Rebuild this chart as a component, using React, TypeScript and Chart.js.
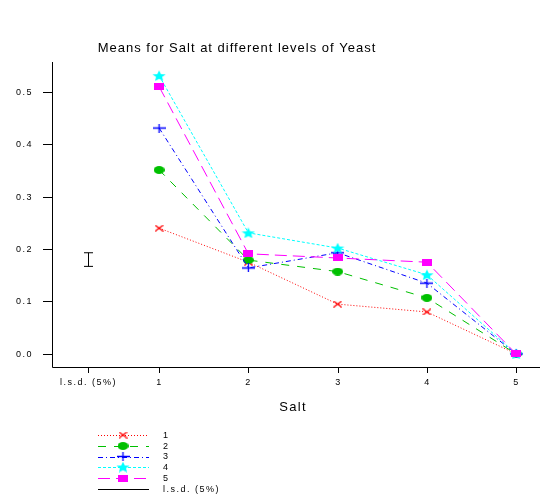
import React, { useEffect, useRef } from "react";
import { Chart, registerables } from "chart.js";

Chart.register(...registerables);

const saltLevels = [1, 2, 3, 4, 5];
const yeast1 = [0.24, 0.175, 0.095, 0.08, 0.0];
const yeast2 = [0.351, 0.179, 0.157, 0.107, 0.0];
const yeast3 = [0.431, 0.164, 0.193, 0.135, 0.0];
const yeast4 = [0.531, 0.231, 0.202, 0.151, 0.0];
const yeast5 = [0.51, 0.191, 0.183, 0.175, 0.0];
const seriesLabels = ["1", "2", "3", "4", "5"];
const lsdLabel = "l.s.d. (5%)";
const lsdX = 0.2;
const lsdCentre = 0.18;
const lsdHalf = 0.013;
const yTicks = [0, 0.1, 0.2, 0.3, 0.4, 0.5];
const yTickLabels = ["0.0", "0.1", "0.2", "0.3", "0.4", "0.5"];
const xTicks = [0.2, 1, 2, 3, 4, 5];
const xTickLabels = ["l.s.d. (5%)", "1", "2", "3", "4", "5"];
const titleText = "Means for Salt at different levels of Yeast";
const xTitle = "Salt";

const colors = ["#ff0000", "#00c000", "#0000ff", "#00ffff", "#ff00ff"];
const dashes = [[1, 2], [8, 8], [5, 3, 1, 3], [3, 2], [12, 6]];
const markerKinds = ["x", "circle", "plus", "star", "square"];

function makeMarker(kind: string, color: string): HTMLCanvasElement {
  const c = document.createElement("canvas");
  let w = 10, h = 8;
  if (kind === "x") { w = 9; h = 7; }
  if (kind === "circle") { w = 11; h = 8; }
  if (kind === "plus") { w = 13; h = 9; }
  if (kind === "star") { w = 14; h = 11; }
  if (kind === "square") { w = 10; h = 7; }
  c.width = w; c.height = h;
  const ctx = c.getContext("2d")!;
  ctx.strokeStyle = color; ctx.fillStyle = color; ctx.lineWidth = 1.3;
  if (kind === "x") {
    ctx.beginPath();
    ctx.moveTo(0.5, 0.5); ctx.lineTo(w - 0.5, h - 0.5);
    ctx.moveTo(w - 0.5, 0.5); ctx.lineTo(0.5, h - 0.5);
    ctx.stroke();
  } else if (kind === "circle") {
    ctx.beginPath();
    ctx.ellipse(w / 2, h / 2, w / 2, h / 2, 0, 0, Math.PI * 2);
    ctx.fill();
  } else if (kind === "plus") {
    ctx.beginPath();
    ctx.moveTo(0, h / 2); ctx.lineTo(w, h / 2);
    ctx.moveTo(w / 2, 0); ctx.lineTo(w / 2, h);
    ctx.stroke();
  } else if (kind === "star") {
    ctx.beginPath();
    for (let i = 0; i < 10; i++) {
      const r = i % 2 === 0 ? 1 : 0.45;
      const a = -Math.PI / 2 + (i * Math.PI) / 5;
      const px = w / 2 + (Math.cos(a) * r * w) / 2;
      const py = h * 0.55 + (Math.sin(a) * r * h) / 1.9;
      if (i === 0) ctx.moveTo(px, py); else ctx.lineTo(px, py);
    }
    ctx.closePath();
    ctx.fill();
  } else {
    ctx.fillRect(0, 0, w, h);
  }
  return c;
}

const FONT = "'Liberation Sans', Arial, sans-serif";

export default function App() {
  const ref = useRef<HTMLCanvasElement | null>(null);
  useEffect(() => {
    if (!ref.current) return;
    const markers = markerKinds.map((k, i) => makeMarker(k, colors[i]));
    const series = [yeast1, yeast2, yeast3, yeast4, yeast5];
    const datasets = series.map((vals, i) => ({
      label: seriesLabels[i],
      data: saltLevels.map((s, j) => ({ x: s, y: vals[j] })),
      borderColor: colors[i],
      backgroundColor: colors[i],
      borderWidth: 1,
      borderDash: dashes[i],
      pointStyle: markers[i] as any,
      pointRadius: 5,
      order: 5 - i,
      tension: 0,
    }));

    const decor = {
      id: "decor",
      beforeDraw(chart: any) {
        const ctx = chart.ctx as CanvasRenderingContext2D;
        ctx.save();
        ctx.fillStyle = "#ffffff";
        ctx.fillRect(0, 0, chart.width, chart.height);
        ctx.restore();
      },
      afterDraw(chart: any) {
        const ctx = chart.ctx as any;
        const xs = chart.scales.x;
        const ys = chart.scales.y;
        const area = chart.chartArea;
        ctx.save();
        ctx.strokeStyle = "#000";
        ctx.fillStyle = "#000";
        ctx.lineWidth = 1;
        // axes
        ctx.beginPath();
        ctx.moveTo(area.left + 0.5, area.top);
        ctx.lineTo(area.left + 0.5, area.bottom + 0.5);
        ctx.lineTo(chart.width, area.bottom + 0.5);
        ctx.stroke();
        // y ticks
        ctx.font = `9px ${FONT}`;
        ctx.letterSpacing = "1.5px";
        ctx.textAlign = "right";
        ctx.textBaseline = "middle";
        yTicks.forEach((v, i) => {
          const py = Math.round(ys.getPixelForValue(v)) + 0.5;
          ctx.beginPath();
          ctx.moveTo(area.left - 9, py);
          ctx.lineTo(area.left, py);
          ctx.stroke();
          ctx.fillText(yTickLabels[i], area.left - 19, py);
        });
        // x ticks
        ctx.textAlign = "center";
        ctx.textBaseline = "middle";
        xTicks.forEach((v, i) => {
          const px = Math.round(xs.getPixelForValue(v)) + 0.5;
          ctx.beginPath();
          ctx.moveTo(px, area.bottom);
          ctx.lineTo(px, area.bottom + 6);
          ctx.stroke();
          ctx.fillText(xTickLabels[i], px, area.bottom + 16);
        });
        // x title
        ctx.font = `13px ${FONT}`;
        ctx.letterSpacing = "1.3px";
        ctx.fillText(xTitle, (area.left + area.right) / 2, 407);
        // main title
        ctx.letterSpacing = "1px";
        ctx.fillText(titleText, 237, 48);
        // lsd bar
        const bx = Math.round(xs.getPixelForValue(lsdX)) + 0.5;
        const top = ys.getPixelForValue(lsdCentre + lsdHalf);
        const bot = ys.getPixelForValue(lsdCentre - lsdHalf);
        ctx.beginPath();
        ctx.moveTo(bx, top); ctx.lineTo(bx, bot);
        ctx.moveTo(bx - 4.5, top); ctx.lineTo(bx + 4.5, top);
        ctx.moveTo(bx - 4.5, bot); ctx.lineTo(bx + 4.5, bot);
        ctx.stroke();
        // legend
        const rowsY = [435, 446, 456.5, 467, 478, 489];
        ctx.font = `9px ${FONT}`;
        ctx.letterSpacing = "1.5px";
        ctx.textAlign = "left";
        for (let i = 0; i < 6; i++) {
          const y = rowsY[i];
          ctx.save();
          if (i < 5) {
            ctx.strokeStyle = colors[i];
            ctx.setLineDash(dashes[i]);
          } else {
            ctx.strokeStyle = "#000";
          }
          ctx.lineWidth = 1;
          ctx.beginPath();
          ctx.moveTo(98, Math.round(y) + 0.5);
          ctx.lineTo(149, Math.round(y) + 0.5);
          ctx.stroke();
          ctx.restore();
          if (i < 5) {
            const m = markers[i];
            ctx.drawImage(m, 123 - m.width / 2, y - m.height / 2);
          }
          ctx.fillStyle = "#000";
          ctx.fillText(i < 5 ? seriesLabels[i] : lsdLabel, 163, y + 0.5);
        }
        ctx.restore();
      },
    };

    const chart = new Chart(ref.current, {
      type: "line",
      data: { datasets },
      options: {
        animation: false,
        responsive: false,
        maintainAspectRatio: false,
        layout: { padding: { left: 52, top: 62, right: 5, bottom: 128 } },
        plugins: { legend: { display: false }, title: { display: false }, tooltip: { enabled: false } },
        scales: {
          x: { type: "linear", min: -0.2, max: 5.2, display: false },
          y: { type: "linear", min: -0.025, max: 0.557, display: false },
        },
      },
      plugins: [decor],
    });
    return () => chart.destroy();
  }, []);
  return (
    <div style={{ position: "absolute", left: 0, top: 0, width: 540, height: 495 }}>
      <canvas ref={ref} width={540} height={495} style={{ width: 540, height: 495, display: "block" }} />
    </div>
  );
}
